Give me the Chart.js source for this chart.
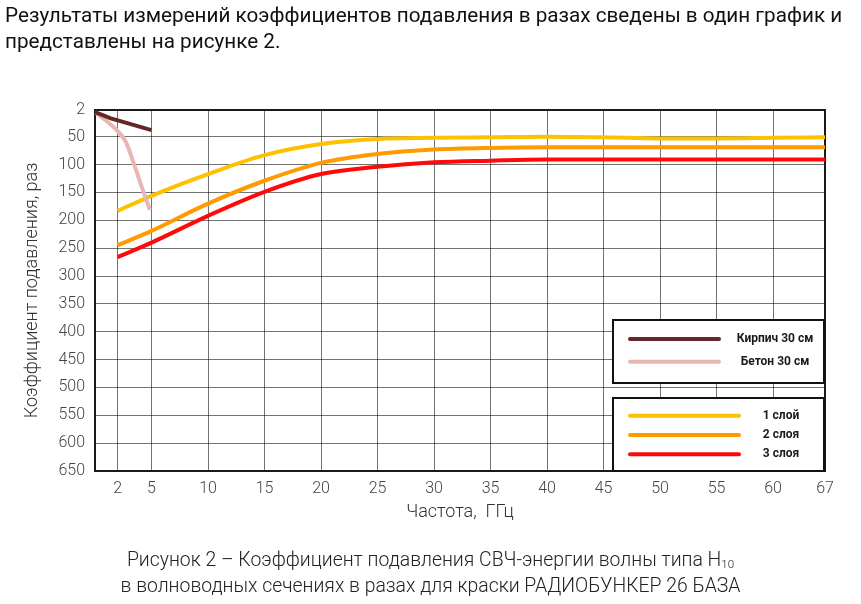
<!DOCTYPE html>
<html lang="ru">
<head>
<meta charset="utf-8">
<title>Рисунок 2</title>
<script src="https://cdn.jsdelivr.net/npm/chart.js@4.4.1/dist/chart.umd.min.js"></script>
<style>
  html, body { margin: 0; padding: 0; background: #fff; }
  #page { position: relative; width: 861px; height: 604px; overflow: hidden; font-family: Roboto, sans-serif; }
  #wrap { position: absolute; left: 0; top: 0; width: 861px; height: 604px; }
  #intro { position: absolute; left: 5px; top: 3px; font-size: 20.7px; line-height: 25.5px; color: #111; white-space: nowrap; }
  #caption { position: absolute; left: 0; top: 547px; width: 861px; text-align: center; font-size: 19.4px; font-weight: 300; line-height: 26px; color: #222; }
  #caption sub { font-size: 11.5px; vertical-align: -2px; line-height: 0; }
</style>
</head>
<body>
<div id="page">
  <div id="wrap"><canvas id="chart"></canvas></div>
  <div id="intro">Результаты измерений коэффициентов подавления в разах сведены в один график и<br>представлены на рисунке 2.</div>
  <div id="caption">Рисунок 2 – Коэффициент подавления СВЧ-энергии волны типа H<sub>10</sub><br>в волноводных сечениях в разах для краски РАДИОБУНКЕР 26 БАЗА</div>
</div>
<script>
// частота, ГГц (последняя точка стоит на правой границе, подписана "67")
var freq = [2, 5, 10, 15, 20, 25, 30, 35, 40, 45, 50, 55, 60, 64.6]
var layer1 = [183, 156, 117, 83, 63, 54, 52, 51, 50, 51, 53, 53, 52, 51]
var layer2 = [245, 219, 170, 129, 97, 81, 73, 70, 69, 69, 69, 69, 69, 69]
var layer3 = [266, 240, 192, 149, 117, 104, 96, 93, 91, 91, 91, 91, 91, 91]

var brickFreq = [0, 1.4, 5]
var brickVal = [6, 17, 38]
var concreteFreq = [0, 1.1, 2.15, 2.75, 3.5, 4.2, 4.85]
var concreteVal = [6, 23, 43, 60, 102, 144, 181]

var xTicks = [2, 5, 10, 15, 20, 25, 30, 35, 40, 45, 50, 55, 60, 64.6]
var xTickLabels = ['2', '5', '10', '15', '20', '25', '30', '35', '40', '45', '50', '55', '60', '67']
var yTicks = [2, 50, 100, 150, 200, 250, 300, 350, 400, 450, 500, 550, 600, 650]

function pts(xs, ys) {
  return xs.map(function (x, i) { return { x: x, y: ys[i] } })
}

function line(label, data, color, smooth) {
  return {
    label: label,
    data: data,
    borderColor: color,
    backgroundColor: color,
    borderWidth: 4,
    pointRadius: 0,
    fill: false,
    tension: smooth ? 0.4 : 0,
    cubicInterpolationMode: smooth ? 'monotone' : 'default',
    borderCapStyle: 'butt'
  }
}

// рамка вокруг поля графика
var frame = {
  id: 'frame',
  beforeDatasetsDraw: function (chart) {
    var a = chart.chartArea, ctx = chart.ctx
    ctx.save()
    ctx.strokeStyle = '#1a1a1a'
    ctx.lineWidth = 2
    ctx.strokeRect(a.left, a.top, a.right - a.left, a.bottom - a.top)
    ctx.restore()
  }
}

// две рамки легенды в правом нижнем углу
var boxLegend = {
  id: 'boxLegend',
  afterDraw: function (chart) {
    var a = chart.chartArea, ctx = chart.ctx
    var ds = chart.data.datasets
    var left = 613, right = a.right - 1
    var groups = [
      { items: [0, 1], top: 320, bottom: 383, rows: [339, 361.7], lineEnd: 719, textX: 775 },
      { items: [2, 3, 4], top: 398, bottom: a.bottom, rows: [415.7, 435, 454.3], lineEnd: 739, textX: 781 }
    ]
    ctx.save()
    groups.forEach(function (g) {
      ctx.fillStyle = '#fff'
      ctx.fillRect(left, g.top, right - left, g.bottom - g.top)
      ctx.strokeStyle = '#111'
      ctx.lineWidth = 2
      ctx.strokeRect(left, g.top, right - left, g.bottom - g.top)
      g.items.forEach(function (idx, r) {
        var y = g.rows[r]
        ctx.beginPath()
        ctx.lineCap = 'round'
        ctx.lineWidth = 4
        ctx.strokeStyle = ds[idx].borderColor
        ctx.moveTo(630, y)
        ctx.lineTo(g.lineEnd, y)
        ctx.stroke()
        ctx.fillStyle = '#1a1a1a'
        ctx.font = 'bold 12px Roboto, sans-serif'
        ctx.textAlign = 'center'
        ctx.textBaseline = 'middle'
        ctx.fillText(ds[idx].label, g.textX, y)
      })
    })
    ctx.restore()
  }
}

var ctx = document.getElementById('chart').getContext('2d')
var chart = new Chart(ctx, {
  type: 'line',
  data: {
    datasets: [
      line('Кирпич 30 см', pts(brickFreq, brickVal), '#64282a', false),
      line('Бетон 30 см', pts(concreteFreq, concreteVal), '#e8b7b2', true),
      line('1 слой', pts(freq, layer1), '#ffc000', true),
      line('2 слоя', pts(freq, layer2), '#ff9a00', true),
      line('3 слоя', pts(freq, layer3), '#ff0a0a', true)
    ]
  },
  options: {
    responsive: true,
    maintainAspectRatio: false,
    animation: false,
    layout: { padding: { top: 110, right: 36, bottom: 73, left: 0 } },
    plugins: {
      legend: { display: false },
      tooltip: { enabled: false }
    },
    scales: {
      x: {
        type: 'linear',
        min: 0,
        max: 64.6,
        afterBuildTicks: function (scale) {
          scale.ticks = xTicks.map(function (v) { return { value: v } })
        },
        afterFit: function (scale) { scale.height = 60 },
        ticks: {
          autoSkip: false,
          maxRotation: 0,
          padding: 8,
          color: '#444',
          font: { family: 'Roboto', size: 16, weight: 300 },
          callback: function (v, i) { return xTickLabels[i] }
        },
        grid: { color: 'rgba(0,0,0,0.55)', lineWidth: 1, drawTicks: false },
        border: { display: false },
        title: {
          display: true,
          text: 'Частота,  ГГц',
          color: '#333',
          font: { family: 'Roboto', size: 18, weight: 300 },
          padding: { top: 0, bottom: 8 }
        }
      },
      y: {
        type: 'linear',
        reverse: true,
        min: 2,
        max: 650,
        afterBuildTicks: function (scale) {
          scale.ticks = yTicks.map(function (v) { return { value: v } })
        },
        afterFit: function (scale) { scale.width = 95 },
        ticks: {
          autoSkip: false,
          padding: 10,
          color: '#444',
          font: { family: 'Roboto', size: 16, weight: 300 }
        },
        grid: { color: 'rgba(0,0,0,0.55)', lineWidth: 1, drawTicks: false },
        border: { display: false },
        title: {
          display: true,
          text: 'Коэффициент подавления, раз',
          color: '#333',
          font: { family: 'Roboto', size: 18, weight: 300 },
          padding: { top: 22, bottom: 0 }
        }
      }
    }
  },
  plugins: [frame, boxLegend]
})
</script>
</body>
</html>
